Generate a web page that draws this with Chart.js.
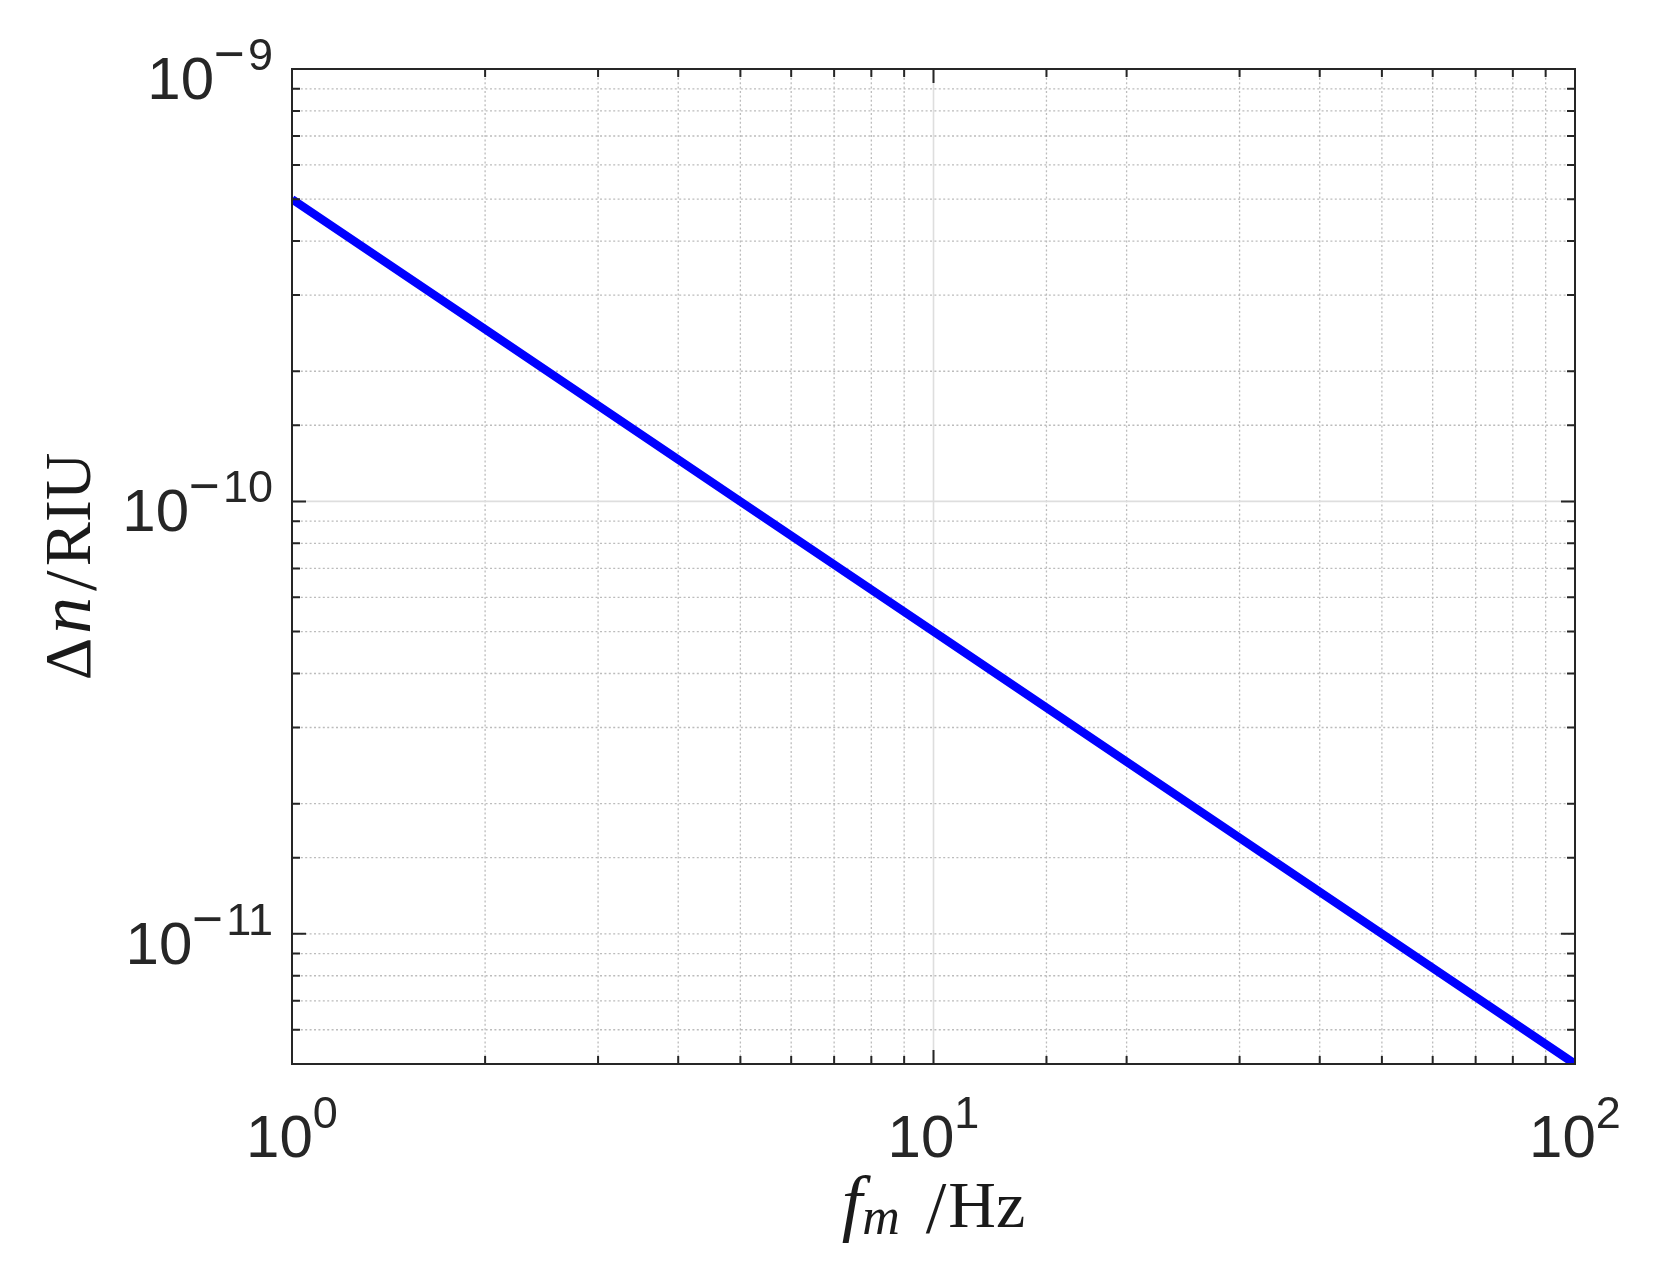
<!DOCTYPE html>
<html>
<head>
<meta charset="utf-8">
<script src="https://cdn.jsdelivr.net/npm/chart.js@4/dist/chart.umd.min.js"></script>
<style>
  html, body { margin: 0; padding: 0; background: #ffffff; }
  #wrap { width: 1672px; height: 1274px; }
  canvas { display: block; }
</style>
</head>
<body>
<div id="wrap"><canvas id="c" width="1672" height="1274"></canvas></div>
<script>
// ---- data ----
const freqHz = [1, 2, 5, 10, 20, 50, 100];
const deltaN = [5e-10, 2.5e-10, 1e-10, 5e-11, 2.5e-11, 1e-11, 5e-12];

const xRange = [1, 100];
const yRange = [5e-12, 1e-9];

const xTickValues = [1, 10, 100];
const xTickExponents = ['0', '1', '2'];
const yTickValues = [1e-11, 1e-10, 1e-9];
const yTickExponents = ['\u221211', '\u221210', '\u22129'];

const xTitleParts = ['f', 'm', '/', 'Hz'];
const yTitleParts = ['\u0394', 'n', '/', 'RIU'];

// ---- styling ----
const TEXT = '#262626';
const SANS = '"Liberation Sans", Arial, Helvetica, sans-serif';
const SERIF = '"Liberation Serif", "Times New Roman", serif';
const MAIN_FONT = '60px ' + SANS;
const SUP_FONT = '45px ' + SANS;
const MINUS_FONT = '53px ' + SANS;

function isDecade(v) {
  const l = Math.log10(v);
  return Math.abs(l - Math.round(l)) < 1e-6;
}

function measureExp(ctx, s) {
  if (s[0] === '\u2212') {
    ctx.font = MINUS_FONT; const wm = ctx.measureText('\u2212').width;
    ctx.font = SUP_FONT; const wd = ctx.measureText(s.slice(1)).width;
    return wm + 3 + wd;
  }
  ctx.font = SUP_FONT; return ctx.measureText(s).width;
}
function drawExp(ctx, s, x0, base) {
  if (s[0] === '\u2212') {
    ctx.font = MINUS_FONT; const wm = ctx.measureText('\u2212').width;
    ctx.fillText('\u2212', x0, base + 2);
    ctx.font = SUP_FONT; ctx.fillText(s.slice(1), x0 + wm + 3, base);
    return;
  }
  ctx.font = SUP_FONT; ctx.fillText(s, x0, base);
}

const matlabAxes = {
  id: 'matlabAxes',
  beforeDatasetsDraw(chart) {
    const { ctx, chartArea: a, scales } = chart;
    ctx.save();
    ctx.beginPath();
    ctx.rect(a.left, a.top, a.right - a.left, a.bottom - a.top);
    ctx.clip();
    ['x', 'y'].forEach(id => {
      const s = scales[id];
      const minIsDecade = isDecade(s.min);
      let firstDecadeSeen = false;
      const solid = [], dotted = [];
      s.ticks.forEach(t => {
        const v = t.value;
        const dec = isDecade(v);
        let major = dec;
        if (dec && !firstDecadeSeen) {
          firstDecadeSeen = true;
          if (!minIsDecade) major = false;
        }
        if (Math.abs(v - s.min) / s.min < 1e-6 || Math.abs(v - s.max) / s.max < 1e-6) return;
        (major ? solid : dotted).push(s.getPixelForValue(v));
      });
      const drawLines = (arr) => arr.forEach(p => {
        ctx.beginPath();
        if (id === 'x') { ctx.moveTo(p, a.top); ctx.lineTo(p, a.bottom); }
        else { ctx.moveTo(a.left, p); ctx.lineTo(a.right, p); }
        ctx.stroke();
      });
      ctx.setLineDash([]);
      ctx.strokeStyle = '#dedede';
      ctx.lineWidth = 1.6;
      drawLines(solid);
      ctx.setLineDash([2, 2.4]);
      ctx.strokeStyle = '#bcbcbc';
      ctx.lineWidth = 1.3;
      drawLines(dotted);
    });
    ctx.restore();
  },
  afterDatasetsDraw(chart) {
    const { ctx, chartArea: a, scales } = chart;
    ctx.save();
    ctx.setLineDash([]);
    ctx.strokeStyle = TEXT;
    ctx.lineWidth = 2;
    ctx.strokeRect(a.left, a.top, a.right - a.left, a.bottom - a.top);
    ['x', 'y'].forEach(id => {
      const s = scales[id];
      s.ticks.forEach(t => {
        const v = t.value;
        if (Math.abs(v - s.min) / s.min < 1e-6 || Math.abs(v - s.max) / s.max < 1e-6) return;
        const len = isDecade(v) ? 14 : 8;
        const p = s.getPixelForValue(v);
        ctx.beginPath();
        if (id === 'x') {
          ctx.moveTo(p, a.bottom); ctx.lineTo(p, a.bottom - len);
          ctx.moveTo(p, a.top); ctx.lineTo(p, a.top + len);
        } else {
          ctx.moveTo(a.left, p); ctx.lineTo(a.left + len, p);
          ctx.moveTo(a.right, p); ctx.lineTo(a.right - len, p);
        }
        ctx.stroke();
      });
    });
    ctx.restore();
  },
  afterDraw(chart) {
    const { ctx, chartArea: a, scales: { x, y } } = chart;
    ctx.save();
    ctx.fillStyle = TEXT;
    ctx.textBaseline = 'alphabetic';
    ctx.textAlign = 'left';

    xTickValues.forEach((v, i) => {
      const px = x.getPixelForValue(v);
      ctx.font = MAIN_FONT; const w1 = ctx.measureText('10').width;
      const w2 = measureExp(ctx, xTickExponents[i]);
      const x0 = px - (w1 + w2) / 2;
      ctx.font = MAIN_FONT; ctx.fillText('10', x0, a.bottom + 93);
      drawExp(ctx, xTickExponents[i], x0 + w1, a.bottom + 64);
    });

    yTickValues.forEach((v, i) => {
      const py = y.getPixelForValue(v);
      ctx.font = MAIN_FONT; const w1 = ctx.measureText('10').width;
      const w2 = measureExp(ctx, yTickExponents[i]);
      const right = a.left - 19;
      const x0 = right - w1 - w2;
      ctx.font = MAIN_FONT; ctx.fillText('10', x0, py + 30);
      drawExp(ctx, yTickExponents[i], x0 + w1, py + 1);
    });

    // x title:  f_m /Hz
    ctx.fillStyle = '#1a1a1a';
    const fFont = 'italic 74px ' + SERIF;
    const subFont = 'italic 52px ' + SERIF;
    const slashFont = '74px ' + SERIF;
    const upFont = '66px ' + SERIF;
    ctx.font = fFont; const wf = ctx.measureText(xTitleParts[0]).width;
    ctx.font = subFont; const wm = ctx.measureText(xTitleParts[1]).width;
    ctx.font = slashFont; const ws = ctx.measureText(xTitleParts[2]).width;
    ctx.font = upFont; const wh = ctx.measureText(xTitleParts[3]).width;
    const gap1 = 0, gap2 = 26, gap3 = 2;
    const totalX = wf + gap1 + wm + gap2 + ws + gap3 + wh;
    let cx = (a.left + a.right) / 2 - totalX / 2;
    const baseX = 1227;
    ctx.font = fFont; ctx.fillText(xTitleParts[0], cx, baseX); cx += wf + gap1;
    ctx.font = subFont; ctx.fillText(xTitleParts[1], cx, baseX + 7); cx += wm + gap2;
    ctx.font = slashFont; ctx.fillText(xTitleParts[2], cx, baseX + 6); cx += ws + gap3;
    ctx.font = upFont; ctx.fillText(xTitleParts[3], cx, baseX);

    // y title:  Δn/RIU (rotated)
    ctx.save();
    ctx.translate(90, (a.top + a.bottom) / 2);
    ctx.rotate(-Math.PI / 2);
    const italicFont = 'italic 74px ' + SERIF;
    ctx.font = upFont; const wd = ctx.measureText(yTitleParts[0]).width;
    ctx.font = italicFont; const wn = ctx.measureText(yTitleParts[1]).width;
    ctx.font = slashFont; const wsl = ctx.measureText(yTitleParts[2]).width;
    ctx.font = upFont; const wr = ctx.measureText(yTitleParts[3]).width;
    const g1 = 4, g2 = 6, g3 = 4;
    const totalY = wd + g1 + wn + g2 + wsl + g3 + wr;
    let cy = -totalY / 2;
    ctx.font = upFont; ctx.fillText(yTitleParts[0], cy, 0); cy += wd + g1;
    ctx.font = italicFont; ctx.fillText(yTitleParts[1], cy, 0); cy += wn + g2;
    ctx.font = slashFont; ctx.fillText(yTitleParts[2], cy, 6); cy += wsl + g3;
    ctx.font = upFont; ctx.fillText(yTitleParts[3], cy, 0);
    ctx.restore();

    ctx.restore();
  }
};

const hiddenAxis = {
  display: true,
  grid: { display: false, drawTicks: false },
  border: { display: false },
  ticks: { display: false },
  title: { display: false }
};

new Chart(document.getElementById('c'), {
  type: 'scatter',
  data: {
    datasets: [{
      data: freqHz.map((f, i) => ({ x: f, y: deltaN[i] })),
      showLine: true,
      borderColor: '#0000ff',
      backgroundColor: '#0000ff',
      borderWidth: 8.5,
      pointRadius: 0,
      tension: 0
    }]
  },
  options: {
    responsive: false,
    animation: false,
    devicePixelRatio: 1,
    layout: { padding: { left: 292, top: 69, right: 97, bottom: 210 } },
    plugins: { legend: { display: false }, tooltip: { enabled: false } },
    scales: {
      x: Object.assign({ type: 'logarithmic', min: xRange[0], max: xRange[1] }, JSON.parse(JSON.stringify(hiddenAxis))),
      y: Object.assign({ type: 'logarithmic', min: yRange[0], max: yRange[1] }, JSON.parse(JSON.stringify(hiddenAxis)))
    }
  },
  plugins: [matlabAxes]
});
</script>
</body>
</html>
